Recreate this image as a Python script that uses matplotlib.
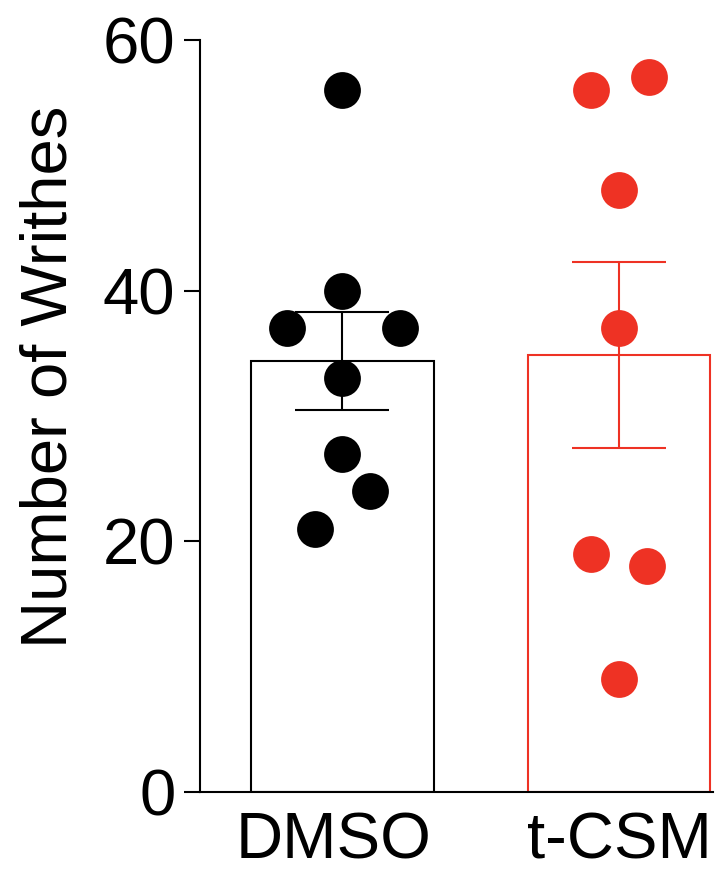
import matplotlib

matplotlib.use("Agg")
import matplotlib.pyplot as plt
import matplotlib.transforms as mtransforms
import numpy as np

plt.rcParams["font.family"] = ["Liberation Sans", "DejaVu Sans"]

BLACK = "#000000"
RED = "#EE3224"

groups = ["DMSO", "t-CSM"]
dmso_writhes = [56, 40, 37, 37, 33, 27, 24, 21]
tcsm_writhes = [57, 56, 48, 37, 19, 18, 9]
# horizontal scatter of the dots within each bar, in bar units
dmso_jitter = [0.0, 0.0, -0.2, 0.21, 0.0, 0.0, 0.1, -0.1]
tcsm_jitter = [0.11, -0.1, 0.0, 0.0, -0.1, 0.1, 0.0]
y_ticks = [0, 20, 40, 60]

series = [
    (dmso_writhes, dmso_jitter, BLACK),
    (tcsm_writhes, tcsm_jitter, RED),
]

fig = plt.figure(figsize=(7.16, 8.71), dpi=100)
ax = fig.add_axes([0.279, 0.0907, 0.717, 0.8635])

for i, (vals, jit, color) in enumerate(series):
    vals = np.array(vals, dtype=float)
    mean = vals.mean()
    sem = vals.std(ddof=1) / np.sqrt(len(vals))
    ax.bar(i, mean, width=0.66, facecolor="white", edgecolor=color,
           linewidth=1.5, zorder=1)
    ax.errorbar(i, mean, yerr=sem, color=color, capsize=34, capthick=1.5,
                elinewidth=1.5, zorder=2)
    ax.plot(i + np.array(jit), vals, "o", color=color, markersize=26.5,
            markeredgewidth=0, zorder=3)

ax.set_xlim(-0.515, 1.34)
ax.set_ylim(0, 60)
ax.set_yticks(y_ticks)
ax.set_xticks(range(len(groups)))
ax.set_xticklabels(groups)
ax.tick_params(axis="y", length=11.5, width=1.5, pad=6, labelsize=47)
ax.tick_params(axis="x", length=0, pad=14, labelsize=47)

# the DMSO label sits a little left of its bar in the original
lbl = ax.get_xticklabels()[0]
lbl.set_transform(lbl.get_transform()
                  + mtransforms.ScaledTranslation(-9 / 100, 0, fig.dpi_scale_trans))

ax.set_ylabel("Number of Writhes", fontsize=47)
ax.yaxis.set_label_coords(-0.234, 0.552)

for side in ["top", "right"]:
    ax.spines[side].set_visible(False)
for side in ["left", "bottom"]:
    ax.spines[side].set_linewidth(1.5)

fig.savefig("out.png", dpi=100)
